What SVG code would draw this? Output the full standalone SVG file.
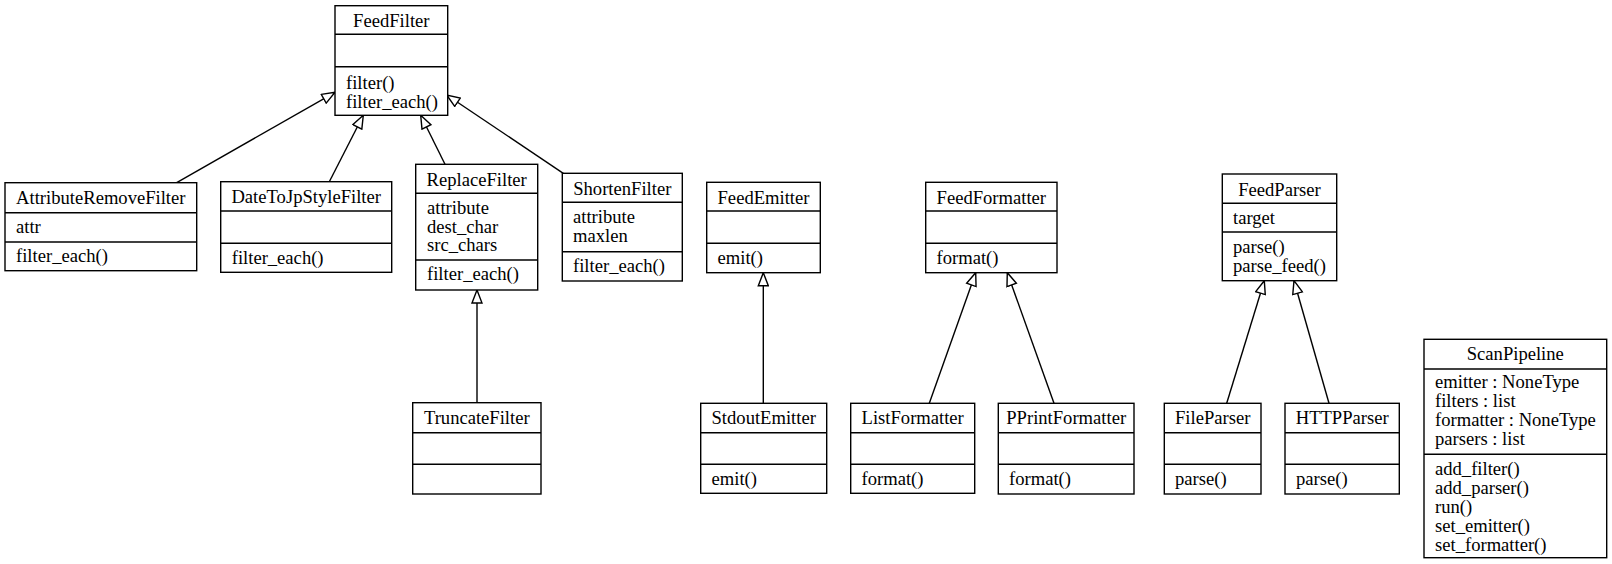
<svg xmlns="http://www.w3.org/2000/svg" width="1612" height="564" viewBox="0 0 1612 564" font-family="'Liberation Serif', 'DejaVu Serif', serif">
<style>
rect.box{fill:#fff;stroke:#000;stroke-width:1.4}
line.div{stroke:#000;stroke-width:1.4}
text{font-family:'Liberation Serif','DejaVu Serif',serif;font-size:18.6px;fill:#000}
text.t{text-anchor:middle}
.edge{stroke:#000;stroke-width:1.4;fill:none;marker-end:url(#inh)}
</style>
<defs>
<marker id="inh" markerUnits="userSpaceOnUse" viewBox="0 0 15 12" markerWidth="15" markerHeight="12" refX="14" refY="6" orient="auto">
<path d="M1,1 L14,6 L1,11 Z" fill="#fff" stroke="#000" stroke-width="1.4"/>
</marker>
</defs>
<g id="edges">
<line class="edge" x1="176.7" y1="182.7" x2="335" y2="92.3"/>
<line class="edge" x1="329.3" y1="181.7" x2="363.3" y2="115.3"/>
<line class="edge" x1="445" y1="164.3" x2="420.7" y2="115.3"/>
<line class="edge" x1="563.3" y1="173.3" x2="446.7" y2="95"/>
<line class="edge" x1="477" y1="402.7" x2="477" y2="290"/>
<line class="edge" x1="763.3" y1="403.3" x2="763.3" y2="272.7"/>
<line class="edge" x1="929.3" y1="403.3" x2="975.7" y2="272.7"/>
<line class="edge" x1="1054" y1="403.3" x2="1007.3" y2="272.7"/>
<line class="edge" x1="1226.7" y1="403.3" x2="1264.3" y2="280.7"/>
<line class="edge" x1="1329" y1="403.3" x2="1294" y2="280.7"/>
</g>
<g id="FeedFilter">
<rect class="box" x="335" y="5.7" width="112.7" height="109.6"/>
<line class="div" x1="335" y1="34.3" x2="447.7" y2="34.3"/>
<line class="div" x1="335" y1="66.7" x2="447.7" y2="66.7"/>
<text class="t" x="391.3" y="27">FeedFilter</text>
<text x="346" y="88.5">filter()</text>
<text x="346" y="107.5">filter_each()</text>
</g>
<g id="AttributeRemoveFilter">
<rect class="box" x="5" y="182.7" width="191.7" height="88"/>
<line class="div" x1="5" y1="212.7" x2="196.7" y2="212.7"/>
<line class="div" x1="5" y1="242" x2="196.7" y2="242"/>
<text class="t" x="100.8" y="204">AttributeRemoveFilter</text>
<text x="16" y="232.5">attr</text>
<text x="16" y="262">filter_each()</text>
</g>
<g id="DateToJpStyleFilter">
<rect class="box" x="220.7" y="181.7" width="171" height="90.6"/>
<line class="div" x1="220.7" y1="211" x2="391.7" y2="211"/>
<line class="div" x1="220.7" y1="243.3" x2="391.7" y2="243.3"/>
<text class="t" x="306.2" y="203">DateToJpStyleFilter</text>
<text x="231.7" y="264">filter_each()</text>
</g>
<g id="ReplaceFilter">
<rect class="box" x="415.7" y="164.3" width="122" height="125.7"/>
<line class="div" x1="415.7" y1="193.3" x2="537.7" y2="193.3"/>
<line class="div" x1="415.7" y1="260" x2="537.7" y2="260"/>
<text class="t" x="476.7" y="185.5">ReplaceFilter</text>
<text x="427" y="213.5">attribute</text>
<text x="427" y="232.5">dest_char</text>
<text x="427" y="251">src_chars</text>
<text x="427" y="280">filter_each()</text>
</g>
<g id="ShortenFilter">
<rect class="box" x="562.3" y="173.3" width="120" height="107.7"/>
<line class="div" x1="562.3" y1="202.3" x2="682.3" y2="202.3"/>
<line class="div" x1="562.3" y1="251.7" x2="682.3" y2="251.7"/>
<text class="t" x="622.3" y="195">ShortenFilter</text>
<text x="573" y="222.7">attribute</text>
<text x="573" y="241.7">maxlen</text>
<text x="573" y="272">filter_each()</text>
</g>
<g id="TruncateFilter">
<rect class="box" x="412.7" y="402.7" width="128.3" height="91.3"/>
<line class="div" x1="412.7" y1="432.7" x2="541" y2="432.7"/>
<line class="div" x1="412.7" y1="464.3" x2="541" y2="464.3"/>
<text class="t" x="476.8" y="424">TruncateFilter</text>
</g>
<g id="FeedEmitter">
<rect class="box" x="706.7" y="182.3" width="113.6" height="90.4"/>
<line class="div" x1="706.7" y1="211" x2="820.3" y2="211"/>
<line class="div" x1="706.7" y1="243.3" x2="820.3" y2="243.3"/>
<text class="t" x="763.5" y="203.5">FeedEmitter</text>
<text x="717.5" y="264">emit()</text>
</g>
<g id="StdoutEmitter">
<rect class="box" x="700.7" y="403.3" width="126" height="90"/>
<line class="div" x1="700.7" y1="432.7" x2="826.7" y2="432.7"/>
<line class="div" x1="700.7" y1="464.3" x2="826.7" y2="464.3"/>
<text class="t" x="763.7" y="424">StdoutEmitter</text>
<text x="711.5" y="485">emit()</text>
</g>
<g id="FeedFormatter">
<rect class="box" x="925.7" y="182.3" width="131.3" height="90.4"/>
<line class="div" x1="925.7" y1="211" x2="1057" y2="211"/>
<line class="div" x1="925.7" y1="243.3" x2="1057" y2="243.3"/>
<text class="t" x="991.3" y="203.5">FeedFormatter</text>
<text x="936.5" y="264">format()</text>
</g>
<g id="ListFormatter">
<rect class="box" x="850.7" y="403.3" width="124" height="90"/>
<line class="div" x1="850.7" y1="432.7" x2="974.7" y2="432.7"/>
<line class="div" x1="850.7" y1="464.3" x2="974.7" y2="464.3"/>
<text class="t" x="912.7" y="424">ListFormatter</text>
<text x="861.5" y="485">format()</text>
</g>
<g id="PPrintFormatter">
<rect class="box" x="998.3" y="403.3" width="135.7" height="90.7"/>
<line class="div" x1="998.3" y1="432.7" x2="1134" y2="432.7"/>
<line class="div" x1="998.3" y1="464.3" x2="1134" y2="464.3"/>
<text class="t" x="1066.2" y="424">PPrintFormatter</text>
<text x="1009" y="485">format()</text>
</g>
<g id="FeedParser">
<rect class="box" x="1222.3" y="174" width="114.4" height="106.7"/>
<line class="div" x1="1222.3" y1="203.3" x2="1336.7" y2="203.3"/>
<line class="div" x1="1222.3" y1="232" x2="1336.7" y2="232"/>
<text class="t" x="1279.5" y="195.5">FeedParser</text>
<text x="1233" y="223.5">target</text>
<text x="1233" y="252.7">parse()</text>
<text x="1233" y="271.7">parse_feed()</text>
</g>
<g id="FileParser">
<rect class="box" x="1164.3" y="403.3" width="96.7" height="90.7"/>
<line class="div" x1="1164.3" y1="432.7" x2="1261" y2="432.7"/>
<line class="div" x1="1164.3" y1="464.3" x2="1261" y2="464.3"/>
<text class="t" x="1212.7" y="424">FileParser</text>
<text x="1175" y="485">parse()</text>
</g>
<g id="HTTPParser">
<rect class="box" x="1285" y="403.3" width="114.3" height="90.7"/>
<line class="div" x1="1285" y1="432.7" x2="1399.3" y2="432.7"/>
<line class="div" x1="1285" y1="464.3" x2="1399.3" y2="464.3"/>
<text class="t" x="1342.2" y="424">HTTPParser</text>
<text x="1296" y="485">parse()</text>
</g>
<g id="ScanPipeline">
<rect class="box" x="1424" y="339.3" width="182.7" height="218.4"/>
<line class="div" x1="1424" y1="369" x2="1606.7" y2="369"/>
<line class="div" x1="1424" y1="454.3" x2="1606.7" y2="454.3"/>
<text class="t" x="1515.3" y="360">ScanPipeline</text>
<text x="1435" y="388">emitter : NoneType</text>
<text x="1435" y="407">filters : list</text>
<text x="1435" y="426">formatter : NoneType</text>
<text x="1435" y="445">parsers : list</text>
<text x="1435" y="475">add_filter()</text>
<text x="1435" y="494">add_parser()</text>
<text x="1435" y="513">run()</text>
<text x="1435" y="532">set_emitter()</text>
<text x="1435" y="551">set_formatter()</text>
</g>
</svg>
